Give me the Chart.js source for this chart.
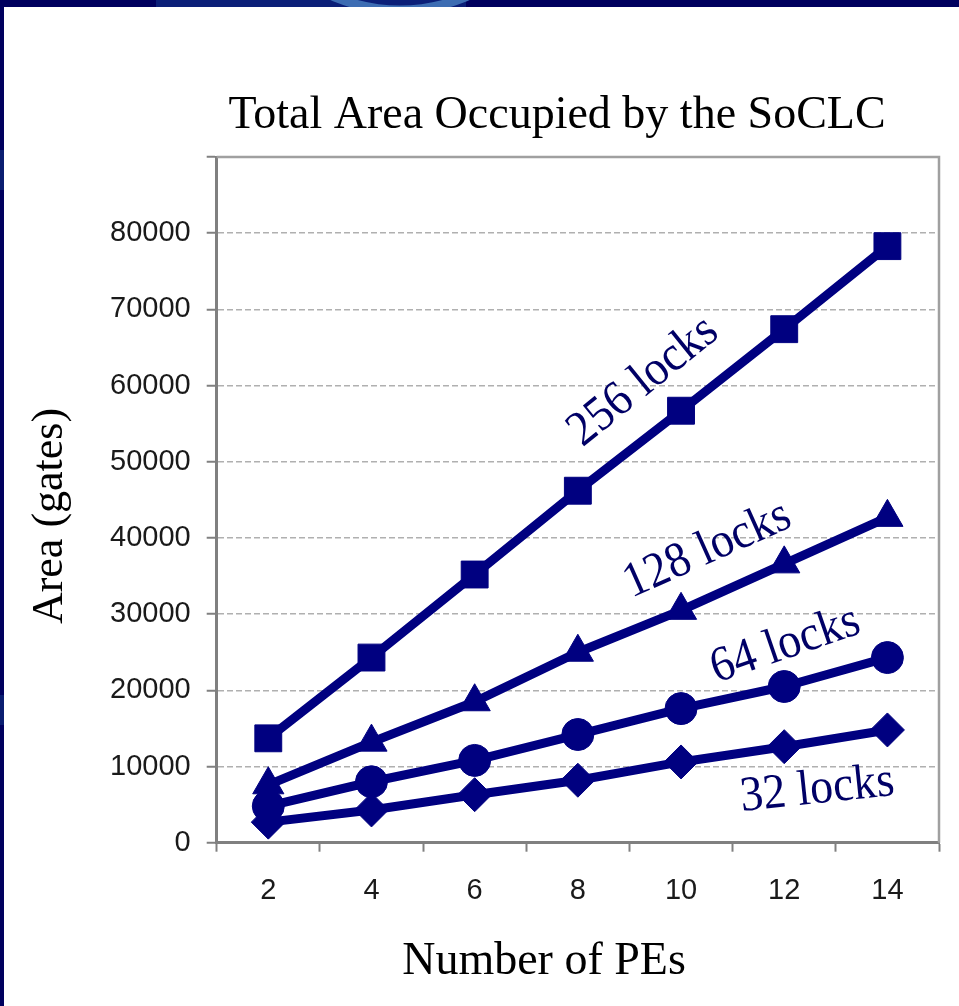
<!DOCTYPE html>
<html>
<head>
<meta charset="utf-8">
<script src="https://cdn.jsdelivr.net/npm/chart.js@4.4.1/dist/chart.umd.min.js"></script>
<style>
  html, body { margin: 0; padding: 0; width: 959px; height: 1006px; overflow: hidden; background: #fff; }
  canvas { position: absolute; left: 0; top: 0; }
</style>
</head>
<body>
<canvas id="frame" width="959" height="1006"></canvas>
<canvas id="chart" width="959" height="1006"></canvas>
<script>
// ---- data ----
const categories = ['2', '4', '6', '8', '10', '12', '14'];
const seriesNames = ['256 locks', '128 locks', '64 locks', '32 locks'];
const locks256 = [13700, 24300, 35200, 46200, 56700, 67400, 78300];
const locks128 = [7600, 13200, 18500, 25000, 30500, 36600, 42700];
const locks64  = [4800, 8000, 10800, 14200, 17600, 20500, 24300];
const locks32  = [2700, 4300, 6300, 8200, 10600, 12600, 14800];
const yTickLabels = ['0', '10000', '20000', '30000', '40000', '50000', '60000', '70000', '80000', ''];
const chartTitle = 'Total Area Occupied by the SoCLC';
const xTitle = 'Number of PEs';
const yTitle = 'Area (gates)';

// ---- slide frame behind the chart ----
(function drawFrame() {
  const c = document.getElementById('frame').getContext('2d');
  c.fillStyle = '#ffffff';
  c.fillRect(0, 0, 959, 1006);
  c.fillStyle = '#00005e';
  c.fillRect(0, 0, 959, 7);
  c.fillRect(0, 0, 4, 1006);
  c.fillStyle = '#0b1f78';
  c.fillRect(156, 0, 310, 7);
  c.save();
  c.beginPath(); c.rect(0, 0, 959, 7); c.clip();
  c.strokeStyle = '#3d6db3';
  c.lineWidth = 9;
  c.beginPath(); c.arc(400, -160, 170, 0, Math.PI * 2); c.stroke();
  c.beginPath(); c.arc(380, -200, 190, 0, Math.PI * 2); c.stroke();
  c.restore();
  c.fillStyle = '#0a1d70';
  c.fillRect(0, 150, 4, 40);
  c.fillRect(0, 695, 4, 30);
})();

// ---- chart ----
const NAVY = '#000080';
const SERIF = '"Liberation Serif", "Times New Roman", serif';
const SANS = '"Liberation Sans", Arial, sans-serif';

function series(name, values, style, radius) {
  return {
    label: name,
    data: values,
    borderColor: NAVY,
    backgroundColor: NAVY,
    borderWidth: 9,
    borderJoinStyle: 'round',
    tension: 0,
    pointStyle: style,
    pointRadius: radius,
    pointHoverRadius: radius,
    pointBorderWidth: 1,
    pointBackgroundColor: NAVY,
    pointBorderColor: NAVY
  };
}

// plot-area border (top and right edges of the frame)
const plotFrame = {
  id: 'plotFrame',
  beforeDatasetsDraw(chart) {
    const { ctx, chartArea: a } = chart;
    ctx.save();
    ctx.strokeStyle = '#a0a0a0';
    ctx.lineWidth = 2.5;
    ctx.beginPath();
    ctx.moveTo(a.left, a.top);
    ctx.lineTo(a.right, a.top);
    ctx.lineTo(a.right, a.bottom);
    ctx.stroke();
    ctx.restore();
  }
};

// series names written alongside their lines
const lineLabels = {
  id: 'lineLabels',
  afterDatasetsDraw(chart, args, opts) {
    const { ctx, scales: { x, y } } = chart;
    ctx.save();
    ctx.font = opts.font;
    ctx.fillStyle = opts.color;
    ctx.textAlign = 'center';
    ctx.textBaseline = 'middle';
    opts.items.forEach((it, i) => {
      const px = x.getPixelForValue(it.at[0]);
      const py = y.getPixelForValue(it.at[1]);
      ctx.save();
      ctx.translate(px, py);
      ctx.rotate(it.angle * Math.PI / 180);
      ctx.scale(1, 1.08);
      ctx.fillText(chart.data.datasets[i].label, 0, 0);
      ctx.restore();
    });
    ctx.restore();
  }
};

// chart title and axis titles
const titles = {
  id: 'titles',
  afterDraw(chart) {
    const { ctx } = chart;
    ctx.save();
    ctx.fillStyle = '#000000';
    ctx.font = '46px ' + SERIF;
    ctx.textAlign = 'center';
    ctx.textBaseline = 'alphabetic';
    ctx.fillText(chartTitle, 557, 128);
    ctx.fillText(xTitle, 544, 974);
    ctx.translate(62, 516);
    ctx.rotate(-Math.PI / 2);
    ctx.font = '44px ' + SERIF;
    ctx.fillText(yTitle, 0, 0);
    ctx.restore();
  }
};

new Chart(document.getElementById('chart'), {
  type: 'line',
  data: {
    labels: categories,
    datasets: [
      series(seriesNames[0], locks256, 'rect', 19),
      series(seriesNames[1], locks128, 'triangle', 18),
      series(seriesNames[2], locks64, 'circle', 16),
      series(seriesNames[3], locks32, 'rectRot', 17)
    ]
  },
  options: {
    responsive: false,
    animation: false,
    devicePixelRatio: 1,
    events: [],
    layout: { padding: { top: 157, right: 19, left: 0, bottom: 0 } },
    plugins: {
      legend: { display: false },
      title: { display: false },
      tooltip: { enabled: false },
      lineLabels: {
        font: '46px ' + SERIF,
        color: '#000066',
        items: [
          { at: [3.635, 60540], angle: -39 },
          { at: [4.255, 38420], angle: -24 },
          { at: [5.01, 25910], angle: -19 },
          { at: [5.32, 6920], angle: -6 }
        ]
      }
    },
    scales: {
      x: {
        type: 'category',
        offset: true,
        grid: {
          offset: true,
          drawOnChartArea: false,
          drawTicks: true,
          tickLength: 9,
          tickColor: '#808080',
          tickWidth: 2
        },
        border: { display: true, color: '#808080', width: 3 },
        ticks: {
          color: '#1a1a1a',
          font: { family: SANS, size: 29 },
          padding: 22,
          maxRotation: 0,
          autoSkip: false
        },
        afterFit(s) { s.height = 163.3; }
      },
      y: {
        min: 0,
        max: 90000,
        ticks: {
          stepSize: 10000,
          color: '#1a1a1a',
          font: { family: SANS, size: 29 },
          padding: 16,
          callback: (v, i) => yTickLabels[i]
        },
        grid: {
          color: '#b0b0b0',
          lineWidth: 1.5,
          drawTicks: true,
          tickLength: 10,
          tickColor: '#808080',
          tickWidth: 2
        },
        border: { display: true, color: '#808080', width: 3, dash: [6, 3] },
        afterFit(s) { s.width = 216.7; }
      }
    }
  },
  plugins: [plotFrame, lineLabels, titles]
});
</script>
</body>
</html>
